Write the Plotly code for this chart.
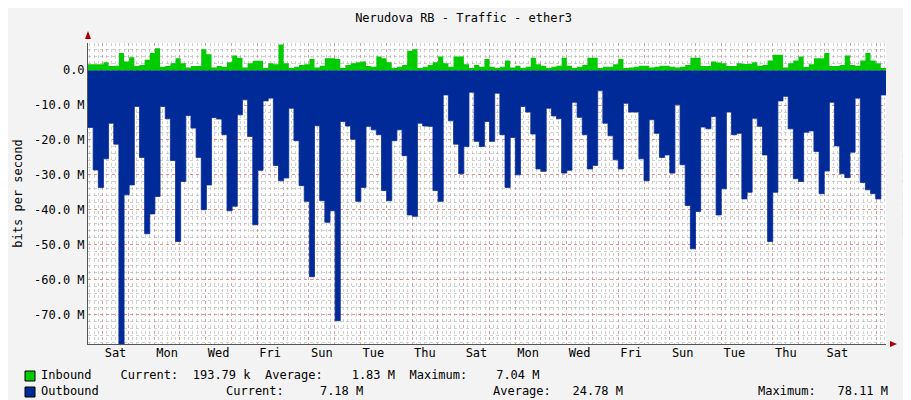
import plotly.graph_objects as go
import pandas as pd

outbound_m = [
 -16.4,-28.6,-33.6,-25.4,-15.2,-21.2,-78.5,-35.7,-32.9,-10.4,-25.0,-46.9,-41.2,-36.2,-10.4,-13.9,-25.9,-49.1,-31.9,-13.0,
 -16.6,-25.0,-40.0,-32.9,-13.6,-14.0,-18.5,-40.3,-39.0,-12.8,-8.5,-19.0,-44.3,-28.7,-8.8,-8.0,-27.3,-31.7,-30.9,-10.9,
 -20.2,-33.1,-37.6,-59.2,-15.9,-37.4,-43.6,-40.3,-71.8,-14.7,-16.0,-19.8,-37.6,-33.6,-16.1,-17.1,-18.5,-34.5,-37.4,-20.2,
 -17.1,-24.5,-41.5,-41.9,-15.2,-16.0,-16.1,-34.5,-37.6,-7.1,-14.5,-21.2,-29.7,-21.9,-6.3,-20.4,-21.9,-14.7,-20.4,
 -6.6,-18.5,-33.6,-19.3,-30.0,-10.4,-12.0,-18.3,-28.3,-29.0,-10.9,-13.1,-13.9,-29.5,-28.7,-9.2,-13.5,-18.5,-28.3,-27.3,
 -5.8,-15.2,-18.8,-25.7,-28.3,-9.5,-12.0,-12.0,-25.4,-31.7,-14.2,-18.1,-25.0,-24.3,-29.5,-9.9,-27.1,-38.8,-51.2,
 -40.5,-16.3,-16.8,-13.3,-41.5,-34.0,-12.0,-18.5,-18.1,-36.9,-35.0,-13.8,-16.1,-24.3,-49.1,-35.0,-8.8,-7.5,-16.8,-31.1,
 -31.9,-17.8,-17.4,-23.3,-35.4,-28.9,-9.2,-21.7,-29.7,-30.8,-23.5,-8.0,-32.2,-34.3,-35.4,-36.9,-7.1]
inbound_m = [
 1.7,1.7,1.7,2.3,1.2,1.3,4.9,2.5,3.7,1.2,1.5,3.0,4.9,6.3,1.0,1.2,2.0,3.4,2.0,0.8,
 1.2,1.2,6.0,4.6,0.8,1.2,1.0,2.3,4.2,3.6,0.8,2.0,2.7,2.7,0.6,2.0,1.7,7.4,2.0,0.6,
 1.0,1.5,1.7,3.2,0.8,1.3,3.4,3.4,3.2,0.6,1.5,2.0,2.3,2.5,1.2,1.0,3.9,3.4,2.3,0.6,
 1.0,1.5,5.6,6.0,0.6,1.0,1.5,2.3,3.9,2.0,1.0,3.9,3.9,1.7,0.6,1.5,1.0,3.2,1.0,
 0.6,1.0,2.8,0.8,1.3,0.6,1.0,3.6,1.7,1.3,0.6,1.0,1.3,3.6,1.3,0.6,1.0,1.5,3.6,3.6,
 0.6,1.0,1.0,1.7,3.2,0.6,0.8,1.0,1.3,1.3,0.8,1.0,1.3,1.3,1.0,0.8,1.0,1.5,3.6,
 3.6,1.2,1.2,2.5,2.2,2.0,1.2,1.2,2.0,1.8,1.8,2.3,1.3,1.5,2.8,4.4,4.4,0.8,2.0,2.8,
 3.9,0.9,1.7,3.4,3.4,4.9,1.2,1.2,1.5,4.2,1.5,1.3,2.8,4.9,2.8,2.0,0.6]

day_labels = ["Sat","Mon","Wed","Fri","Sun","Tue","Thu","Sat","Mon","Wed","Fri","Sun","Tue","Thu","Sat"]
y_ticks = [0,-10,-20,-30,-40,-50,-60,-70]
y_text = ["0.0","-10.0 M","-20.0 M","-30.0 M","-40.0 M","-50.0 M","-60.0 M","-70.0 M"]

start = pd.Timestamp("2021-01-01 10:24")
end = start + pd.Timedelta(days=30.95)
n = len(outbound_m)
step = (end - start) / n
times = [start + step*i for i in range(n)]
tv = [pd.Timestamp("2021-01-02 12:00") + pd.Timedelta(days=2*i) for i in range(len(day_labels))]

mono = "DejaVu Sans Mono"
fig = go.Figure()
fig.add_trace(go.Scatter(x=[start, end], y=[None, None], xaxis="x3", showlegend=False, hoverinfo="skip"))
fig.add_trace(go.Scatter(x=[start, end], y=[None, None], xaxis="x2", showlegend=False, hoverinfo="skip"))
fig.add_trace(go.Scatter(x=times+[end], y=outbound_m+[outbound_m[-1]], mode="lines", line=dict(shape="hv", width=0.8, color="#0a2f98"),
                         fill="tozeroy", fillcolor="#002A97", hoverinfo="skip", showlegend=False))
fig.add_trace(go.Scatter(x=times+[end], y=inbound_m+[inbound_m[-1]], mode="lines", line=dict(shape="hv", width=0, color="#00CC00"),
                         fill="tozeroy", fillcolor="#00CC00", hoverinfo="skip", showlegend=False))

fig.update_layout(
    width=911, height=400, margin=dict(l=80, r=33, t=35, b=64),
    paper_bgcolor="#F3F3F3", plot_bgcolor="#FFFFFF",
    font=dict(family=mono, size=12, color="#000"),
    title=dict(text="Nerudova RB - Traffic - ether3", x=0.5, xanchor="center", y=0.985, yanchor="top", font=dict(size=12, family=mono)),
    xaxis3=dict(type="date", range=[start, end], tickmode="linear", tick0="2021-01-02", dtick=4*3600000,
                showticklabels=False, showgrid=True, gridcolor="rgba(170,170,170,0.55)", griddash="dot", gridwidth=1,
                overlaying="x", matches="x", anchor="y", ticks="", zeroline=False, automargin=False),
    xaxis=dict(type="date", range=[start, end], tickmode="linear", tick0="2021-01-02", dtick=86400000,
               showticklabels=False, showgrid=True, gridcolor="rgba(255,110,110,0.7)", griddash="dot", gridwidth=1,
               showline=True, linecolor="#555", ticks="", zeroline=False, automargin=False),
    xaxis2=dict(type="date", overlaying="x", matches="x", side="bottom", anchor="y", tickmode="array", tickvals=tv, ticktext=day_labels,
                showgrid=False, ticks="", tickfont=dict(size=12, family=mono), automargin=False),
    yaxis=dict(range=[-78.5, 7.8], tickmode="array", tickvals=y_ticks, ticktext=y_text, showgrid=True,
               gridcolor="rgba(255,110,110,0.7)", griddash="dot", zeroline=False,
               minor=dict(dtick=2, tick0=0, showgrid=True, gridcolor="rgba(170,170,170,0.55)", griddash="dot", ticks=""),
               showline=True, linecolor="#555", ticks="", tickfont=dict(size=12, family=mono), automargin=False,
               title=dict(text="bits per second", font=dict(size=12, family=mono), standoff=8)),
)

def px(x):
    return (x - 80) / 798

anns = [
    dict(text="RRDTOOL / TOBI OETIKER", x=px(903), y=0.5, yref="paper", textangle=90, font=dict(size=7, color="#999"), showarrow=False),
    dict(text="Inbound    Current:  193.79 k  Average:    1.83 M  Maximum:    7.04 M", x=px(33), y=367, xanchor="left"),
    dict(text="Outbound", x=px(33), y=383, xanchor="left"),
    dict(text="Current:     7.18 M", x=px(218), y=383, xanchor="left"),
    dict(text="Average:   24.78 M", x=px(485), y=383, xanchor="left"),
    dict(text="Maximum:   78.11 M", x=px(750), y=383, xanchor="left"),
]
for a in anns[1:]:
    a["y"] = 1 - (a["y"] - 35) / 301
    a.update(yref="paper", showarrow=False, font=dict(size=12, family=mono), yanchor="middle", xshift=-2)
for a in anns:
    a.setdefault("xref", "paper")
    fig.add_annotation(**a)

for col, yy in [("#00CC00", 368), ("#002A97", 384)]:
    fig.add_shape(type="rect", xref="paper", yref="paper", x0=px(17), x1=px(27),
                  y0=1 - (yy + 5 - 35) / 301, y1=1 - (yy - 5 - 35) / 301, fillcolor=col, line=dict(color="#000", width=1))
fig.add_shape(type="path", xref="paper", yref="paper", path=f"M {px(77)} {1+4/301} L {px(83)} {1+4/301} L {px(80)} {1+12/301} Z",
              fillcolor="#A00", line=dict(width=0))
fig.add_shape(type="path", xref="paper", yref="paper", path=f"M {px(882)} {3/301} L {px(882)} {-3/301} L {px(889)} 0 Z",
              fillcolor="#A00", line=dict(width=0))

fig.write_html("out.html")
